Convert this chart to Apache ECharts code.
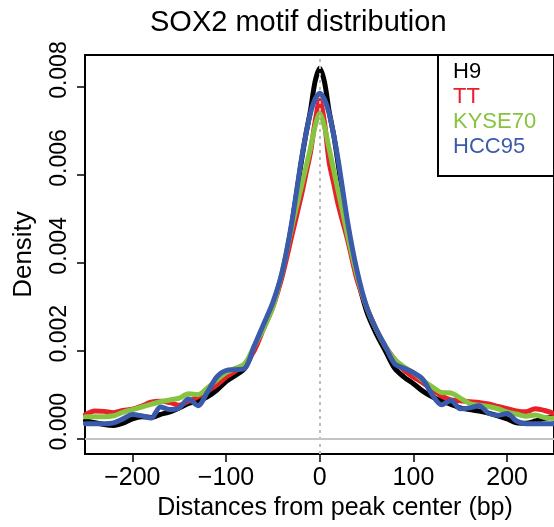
<!DOCTYPE html>
<html>
<head>
<meta charset="utf-8">
<script src="https://cdn.jsdelivr.net/npm/echarts@6/dist/echarts.min.js"></script>
<style>
html, body { margin: 0; padding: 0; background: #fff; }
#chart-panel { width: 554px; height: 527px; }
</style>
</head>
<body>
<div id="chart-panel"></div>
<script>
var FONT = 'Liberation Sans, Arial, Helvetica, sans-serif';

// distance from peak center (bp)
var xs = [-250, -240, -230, -220, -210, -200, -190, -180, -170, -160,
          -150, -140, -130, -120, -110, -100, -90, -80, -70, -60,
          -50, -40, -30, -20, -15, -10, -5, 0, 5, 10,
          15, 20, 30, 40, 50, 60, 70, 80, 90, 100,
          110, 120, 130, 140, 150, 160, 170, 180, 190, 200,
          210, 220, 230, 240, 250];

var h9 = [0.00041, 0.00036, 0.00032, 0.00030, 0.00035, 0.00045, 0.00050, 0.00048, 0.00055, 0.00061,
          0.00070, 0.00080, 0.00085, 0.00095, 0.00110, 0.00130, 0.00144, 0.00160, 0.00205, 0.00255,
          0.00305, 0.00375, 0.00485, 0.00625, 0.00690, 0.00745, 0.00812, 0.00843, 0.00812, 0.00745,
          0.00690, 0.00620, 0.00480, 0.00370, 0.00290, 0.00240, 0.00200, 0.00160, 0.00140, 0.00125,
          0.00108, 0.00095, 0.00086, 0.00078, 0.00070, 0.00066, 0.00063, 0.00058, 0.00052, 0.00045,
          0.00036, 0.00035, 0.00040, 0.00046, 0.00050];

var tt = [0.00055, 0.00063, 0.00062, 0.00059, 0.00064, 0.00067, 0.00074, 0.00083, 0.00085, 0.00082,
          0.00076, 0.00085, 0.00095, 0.00108, 0.00122, 0.00140, 0.00154, 0.00170, 0.00200, 0.00250,
          0.00300, 0.00370, 0.00460, 0.00550, 0.00600, 0.00650, 0.00720, 0.00770, 0.00720, 0.00630,
          0.00580, 0.00530, 0.00450, 0.00360, 0.00300, 0.00250, 0.00210, 0.00180, 0.00156, 0.00140,
          0.00127, 0.00112, 0.00097, 0.00088, 0.00086, 0.00084, 0.00082, 0.00079, 0.00073, 0.00068,
          0.00063, 0.00061, 0.00068, 0.00064, 0.00057];

var kyse70 = [0.00050, 0.00050, 0.00050, 0.00052, 0.00060, 0.00066, 0.00072, 0.00078, 0.00084, 0.00088,
              0.00092, 0.00102, 0.00100, 0.00115, 0.00133, 0.00150, 0.00160, 0.00170, 0.00210, 0.00250,
              0.00300, 0.00380, 0.00480, 0.00570, 0.00615, 0.00660, 0.00710, 0.00740, 0.00710, 0.00660,
              0.00610, 0.00560, 0.00460, 0.00370, 0.00300, 0.00250, 0.00210, 0.00180, 0.00163, 0.00150,
              0.00133, 0.00118, 0.00105, 0.00104, 0.00092, 0.00080, 0.00076, 0.00073, 0.00068, 0.00061,
              0.00056, 0.00051, 0.00054, 0.00048, 0.00046];

var hcc95 = [0.00034, 0.00034, 0.00034, 0.00036, 0.00045, 0.00055, 0.00052, 0.00047, 0.00072, 0.00066,
             0.00070, 0.00090, 0.00075, 0.00105, 0.00140, 0.00155, 0.00157, 0.00160, 0.00210, 0.00260,
             0.00310, 0.00380, 0.00490, 0.00630, 0.00690, 0.00740, 0.00772, 0.00786, 0.00772, 0.00740,
             0.00690, 0.00630, 0.00490, 0.00380, 0.00300, 0.00250, 0.00210, 0.00170, 0.00160, 0.00150,
             0.00135, 0.00100, 0.00077, 0.00087, 0.00068, 0.00070, 0.00075, 0.00058, 0.00053, 0.00057,
             0.00040, 0.00034, 0.00034, 0.00034, 0.00034];

var names = ['H9', 'TT', 'KYSE70', 'HCC95'];
var colors = ['#000000', '#e8202a', '#86c440', '#3a5aab'];
var values = [h9, tt, kyse70, hcc95];

var xTicks = [-200, -100, 0, 100, 200];
var yTicks = [0, 0.002, 0.004, 0.006, 0.008];

function pairs(ys) {
    return xs.map(function (x, i) { return [x, ys[i]]; });
}

var myChart = echarts.init(document.getElementById('chart-panel'));

var series = [{
    // reference lines, drawn under the curves
    name: 'ref',
    type: 'line',
    data: [],
    z: 1,
    silent: true,
    markLine: {
        silent: true,
        symbol: 'none',
        label: { show: false },
        animation: false,
        data: [
            { xAxis: 0, lineStyle: { type: [3, 4], color: '#bdbdbd', width: 2 } },
            { yAxis: 0, lineStyle: { type: 'solid', color: '#c4c4c4', width: 2 } }
        ]
    }
}];

names.forEach(function (n, i) {
    series.push({
        name: n,
        type: 'line',
        data: pairs(values[i]),
        showSymbol: false,
        smooth: 0.3,
        z: 2 + i,
        lineStyle: { color: colors[i], width: 5, cap: 'round', join: 'round' },
        itemStyle: { color: colors[i] }
    });
});

myChart.setOption({
    animation: false,
    backgroundColor: '#fff',
    title: {
        text: 'SOX2 motif distribution',
        left: 145,
        top: 3,
        textStyle: { fontFamily: FONT, fontSize: 29, fontWeight: 'normal', color: '#000' }
    },
    legend: {
        orient: 'vertical',
        left: 438,
        top: 55,
        padding: [6, 60, 18, 10],
        itemGap: 3,
        itemWidth: 0,
        itemHeight: 22,
        selectedMode: false,
        borderColor: '#000',
        borderWidth: 2,
        borderRadius: 0,
        textStyle: { fontFamily: FONT, fontSize: 22 },
        data: names.map(function (n, i) {
            return { name: n, icon: 'rect', textStyle: { color: colors[i] } };
        })
    },
    grid: {
        show: true,
        left: 85,
        top: 55,
        width: 473,
        height: 399,
        borderColor: '#000',
        borderWidth: 2,
        backgroundColor: 'transparent'
    },
    xAxis: {
        type: 'value',
        min: -250.5,
        max: 250,
        name: 'Distances from peak center (bp)',
        nameLocation: 'middle',
        nameGap: 42,
        nameTextStyle: { fontFamily: FONT, fontSize: 25, color: '#000', padding: [0, 0, 0, 31] },
        axisLine: { show: false, onZero: false },
        splitLine: { show: false },
        axisTick: {
            show: true, length: 8, customValues: xTicks,
            lineStyle: { color: '#000', width: 1.5 }
        },
        axisLabel: {
            customValues: xTicks,
            margin: 12,
            fontFamily: FONT,
            fontSize: 25,
            color: '#000',
            formatter: function (v) { return v < 0 ? '\u2212' + Math.abs(v) : String(v); }
        }
    },
    yAxis: {
        type: 'value',
        min: -0.00035,
        max: 0.00873,
        name: 'Density',
        nameLocation: 'middle',
        nameGap: 48,
        nameRotate: 90,
        nameTextStyle: { fontFamily: FONT, fontSize: 26, color: '#000' },
        axisLine: { show: false, onZero: false },
        splitLine: { show: false },
        axisTick: {
            show: true, length: 8, customValues: yTicks,
            lineStyle: { color: '#000', width: 1.5 }
        },
        axisLabel: {
            customValues: yTicks,
            rotate: 90,
            margin: 14,
            fontFamily: FONT,
            fontSize: 23,
            color: '#000',
            padding: [0, 0, 0, 34],
            formatter: function (v) { return v.toFixed(3); }
        }
    },
    series: series
});
</script>
</body>
</html>
